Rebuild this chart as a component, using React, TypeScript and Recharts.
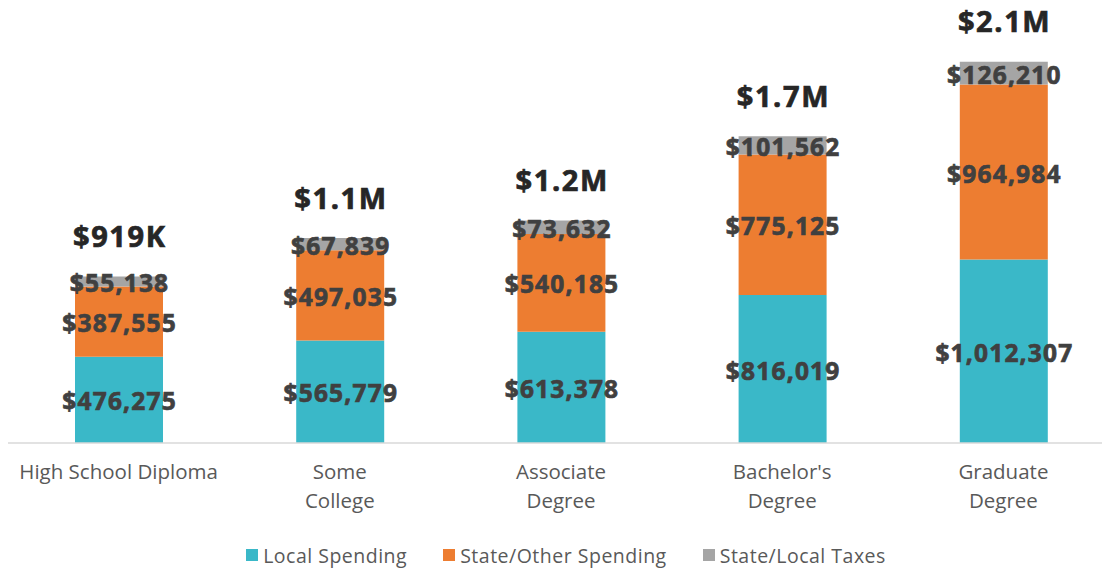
import { BarChart, Bar, XAxis, YAxis, Legend, LabelList } from "recharts";

const categories = ["High School Diploma", "Some College", "Associate Degree", "Bachelor's Degree", "Graduate Degree"];
const tickLines = [["High School Diploma"], ["Some", "College"], ["Associate", "Degree"], ["Bachelor's", "Degree"], ["Graduate", "Degree"]];
const localSpending = [476275, 565779, 613378, 816019, 1012307];
const stateOtherSpending = [387555, 497035, 540185, 775125, 964984];
const stateLocalTaxes = [55138, 67839, 73632, 101562, 126210];
const totalLabels = ["$919K", "$1.1M", "$1.2M", "$1.7M", "$2.1M"];

const COLORS = { local: "#3AB8C8", state: "#ED7D31", taxes: "#A5A5A5" };
const FONT = "'Open Sans', sans-serif";

const data = categories.map((name, i) => ({
  name,
  local: localSpending[i],
  state: stateOtherSpending[i],
  taxes: stateLocalTaxes[i],
}));

const fmt = (v: number) => "$" + v.toLocaleString("en-US");

function SegmentLabel(props: any) {
  const { x, y, width, height, value } = props;
  return (
    <text
      x={x + width / 2 + 0.6}
      y={y + height / 2 + 1}
      textAnchor="middle"
      dominantBaseline="central"
      fontFamily={FONT}
      fontWeight={700}
      fontSize={24.5}
      letterSpacing={1.2}
      fill="#404040"
      stroke="#404040"
      strokeWidth={0.7}
    >
      {fmt(value)}
    </text>
  );
}

function TotalLabel(props: any) {
  const { x, y, width, index } = props;
  return (
    <text
      x={x + width / 2 + 0.8}
      y={y - 41}
      textAnchor="middle"
      dominantBaseline="central"
      fontFamily={FONT}
      fontWeight={700}
      fontSize={29}
      letterSpacing={1.6}
      fill="#262626"
      stroke="#262626"
      strokeWidth={0.7}
    >
      {totalLabels[index]}
    </text>
  );
}

function CategoryTick(props: any) {
  const { x, y, payload } = props;
  const lines = tickLines[payload.index] ?? [payload.value];
  return (
    <g>
      {lines.map((line, i) => (
        <text
          key={i}
          x={x}
          y={y + 28 + i * 29}
          textAnchor="middle"
          fontFamily={FONT}
          fontSize={20.5}
          fill="#595959"
        >
          {line}
        </text>
      ))}
    </g>
  );
}

function LegendContent() {
  const items = [
    { label: "Local Spending", color: COLORS.local },
    { label: "State/Other Spending", color: COLORS.state },
    { label: "State/Local Taxes", color: COLORS.taxes },
  ];
  return (
    <div style={{ display: "flex", justifyContent: "center", alignItems: "center", height: 30, gap: 36, paddingLeft: 10 }}>
      {items.map((it) => (
        <div key={it.label} style={{ display: "flex", alignItems: "center" }}>
          <span style={{ width: 12, height: 12, background: it.color, display: "inline-block", marginRight: 5 }} />
          <span style={{ fontFamily: FONT, fontSize: 19.5, letterSpacing: 0.5, color: "#595959" }}>{it.label}</span>
        </div>
      ))}
    </div>
  );
}

export default function App() {
  return (
    <div style={{ position: "absolute", left: 0, top: 0, width: 1102, height: 571, overflow: "hidden", background: "#fff" }}>
      <BarChart width={1120} height={571} data={data} margin={{ top: 8, right: 6, left: 8, bottom: 1 }}>
        <XAxis
          dataKey="name"
          height={97}
          tick={<CategoryTick />}
          tickLine={false}
          axisLine={{ stroke: "#D9D9D9", strokeWidth: 1.5 }}
          interval={0}
        />
        <YAxis hide domain={[0, 2400000]} />
        <Legend verticalAlign="bottom" content={<LegendContent />} />
        <Bar dataKey="local" stackId="a" fill={COLORS.local} barSize={88} isAnimationActive={false}>
          <LabelList dataKey="local" content={<SegmentLabel />} />
        </Bar>
        <Bar dataKey="state" stackId="a" fill={COLORS.state} barSize={88} isAnimationActive={false}>
          <LabelList dataKey="state" content={<SegmentLabel />} />
        </Bar>
        <Bar dataKey="taxes" stackId="a" fill={COLORS.taxes} barSize={88} isAnimationActive={false}>
          <LabelList dataKey="taxes" content={<SegmentLabel />} />
          <LabelList dataKey="taxes" content={<TotalLabel />} />
        </Bar>
      </BarChart>
    </div>
  );
}
